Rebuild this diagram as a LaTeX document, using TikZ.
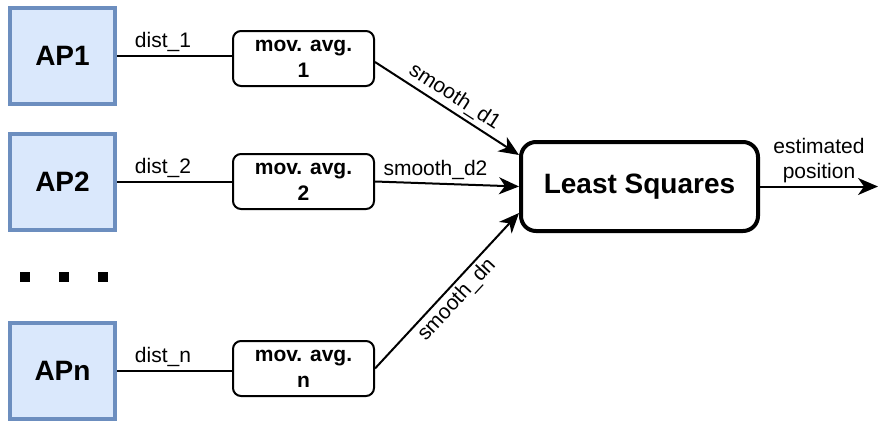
\documentclass[tikz,border=0pt]{standalone}
\usepackage{fontspec}
\setmainfont{Liberation Sans}
\usetikzlibrary{arrows.meta}
\definecolor{apfill}{HTML}{DAE8FC}
\definecolor{apedge}{HTML}{6C8EBF}

\begin{document}
\begin{tikzpicture}[x=1pt,y=-1pt,
  apbox/.style={draw=apedge, fill=apfill, line width=4pt,
    minimum width=105pt, minimum height=96pt, inner sep=0pt,
    font=\fontsize{28}{32}\selectfont\bfseries},
  avgbox/.style={draw, rounded corners=8pt, line width=2pt,
    minimum width=141pt, minimum height=55pt, inner sep=0pt, align=center,
    font=\fontsize{21}{26}\selectfont\bfseries},
  lsbox/.style={draw, rounded corners=15pt, line width=4pt,
    minimum width=237pt, minimum height=89pt, inner sep=0pt,
    font=\fontsize{28}{32}\selectfont\bfseries},
  wire/.style={line width=2pt},
  flow/.style={line width=2pt, -{Stealth[length=20pt,width=17pt,inset=6pt]}},
  lbl/.style={font=\fontsize{21}{25}\selectfont, inner sep=3pt},
  dotsq/.style={fill=black, minimum size=10pt, inner sep=0pt}
]
\useasboundingbox (0,0) rectangle (878,421);

% access points
\node[apbox] (ap1) at (62.5,56) {AP1};
\node[apbox] (ap2) at (62.5,182) {AP2};
\node[apbox] (apn) at (62.5,371) {APn};

% ellipsis between AP2 and APn
\node[dotsq] (d1) at (25,277) {};
\node[dotsq] (d2) at (64,277) {};
\node[dotsq] (d3) at (103,277) {};

% moving-average filters
\node[avgbox] (m1) at (303.5,58.5) {mov. avg.\\1};
\node[avgbox] (m2) at (303.5,181.5) {mov. avg.\\2};
\node[avgbox] (mn) at (303.5,368.5) {mov. avg.\\n};

% solver
\node[lsbox] (ls) at (639.5,186.5) {Least Squares};
\coordinate (out) at (878,186.5);

% raw distances
\draw[wire] (ap1.east) -- (ap1.east -| m1.west) node[lbl, pos=0.4, above] {dist\_1};
\draw[wire] (ap2.east) -- (ap2.east -| m2.west) node[lbl, pos=0.4, above] {dist\_2};
\draw[wire] (apn.east) -- (apn.east -| mn.west) node[lbl, pos=0.4, above] {dist\_n};

% smoothed distances into the solver
\draw[flow] ([yshift=-3.5pt]m1.east) -- ([yshift=31.5pt]ls.west)
  node[lbl, midway, above, sloped] {smooth\_d1};
\draw[flow] (m2.east) -- (ls.west)
  node[lbl, pos=0.42, above] {smooth\_d2};
\draw[flow] (mn.east) -- ([yshift=-26.5pt]ls.west)
  node[lbl, midway, below, sloped] {smooth\_dn};

% result
\draw[flow] (ls.east) -- (out)
  node[lbl, midway, above, align=center] {estimated\\position};
\end{tikzpicture}
\end{document}
